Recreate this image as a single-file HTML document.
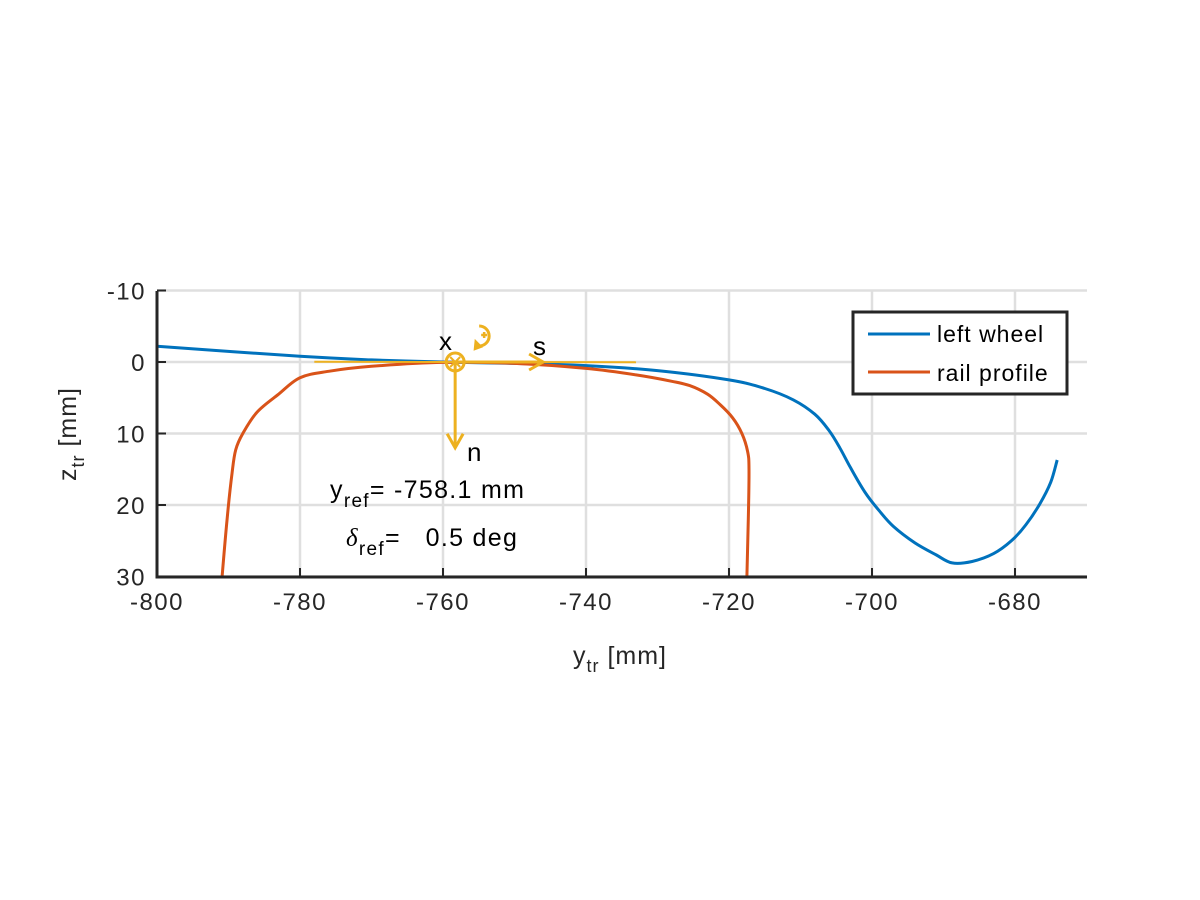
<!DOCTYPE html>
<html><head><meta charset="utf-8"><style>
html,body{margin:0;padding:0;background:#fff;}
svg{display:block;font-family:"Liberation Sans",Arial,sans-serif;}
</style></head><body>
<svg id="chart" width="1200" height="900" viewBox="0 0 1200 900" xmlns="http://www.w3.org/2000/svg">
<rect width="1200" height="900" fill="#fff"/>
<g id="grid"></g>
<g id="series"></g>
<g id="annot"></g>
<g id="axes"></g>
<text x="620" y="664" font-size="25" letter-spacing="1" fill="#262626" text-anchor="middle">y<tspan font-size="18" dy="8">tr</tspan><tspan dy="-8"> [mm]</tspan></text>
<text transform="translate(76,434) rotate(-90)" font-size="25" letter-spacing="1" fill="#262626" text-anchor="middle">z<tspan font-size="18" dy="8">tr</tspan><tspan dy="-8"> [mm]</tspan></text>
<text x="330" y="498" font-size="25" letter-spacing="1.3" fill="#000">y<tspan font-size="19" dy="9">ref</tspan><tspan dy="-9">= -758.1 mm</tspan></text>
<text x="346" y="546" font-size="25" letter-spacing="1.3" fill="#000" xml:space="preserve"><tspan font-family="Liberation Serif" font-style="italic">δ</tspan><tspan font-size="19" dy="9">ref</tspan><tspan dy="-9">=   0.5 deg</tspan></text>
<g>
<rect x="853" y="312" width="214" height="82" fill="#fff" stroke="#262626" stroke-width="3"/>
<line x1="868" y1="334" x2="930" y2="334" stroke="#0072BD" stroke-width="3"/>
<text x="937" y="342" font-size="23" letter-spacing="1" fill="#000">left wheel</text>
<line x1="868" y1="372" x2="930" y2="372" stroke="#D95319" stroke-width="3"/>
<text x="937" y="381" font-size="23" letter-spacing="1" fill="#000">rail profile</text>
</g>
</svg>
<script>
const xTicks = [-800,-780,-760,-740,-720,-700,-680];
const yTicks = [-10,0,10,20,30];
const wheelY = [-800,-780,-770,-760,-750,-740,-730,-720,-715,-711,-708,-706,-704.5,-703,-701,-699,-697,-694,-691,-688.8,-686,-683,-680.5,-678.5,-676.5,-675,-674.1];
const wheelZ = [-2.2,-0.8,-0.3,0,0.2,0.5,1.2,2.5,3.7,5.3,7.3,9.6,12,14.8,18.2,20.8,23,25.3,27,28.1,27.9,26.8,25,22.8,19.8,16.8,13.7];
const railY = [-790.9,-790.2,-789.5,-789,-788,-786,-783,-780,-776,-770,-760,-750,-740,-733,-728,-725.5,-723,-721.2,-719.5,-718.2,-717.4,-717.2,-717.3,-717.5];
const railZ = [30,22,15.5,12.3,10,7,4.5,2.2,1.3,0.6,0.05,0.2,0.9,1.8,2.7,3.3,4.5,6,7.8,10,12.5,15,22,30];
const X = v => 157 + (v + 800) * 7.15;
const Y = v => 362 + v * 7.15;
const NS = "http://www.w3.org/2000/svg";
function mk(tag, attrs, parent){const e=document.createElementNS(NS,tag);for(const k in attrs)e.setAttribute(k,attrs[k]);parent.appendChild(e);return e;}
const grid=document.getElementById('grid'), axes=document.getElementById('axes'), series=document.getElementById('series'), annot=document.getElementById('annot');
const x0=157,x1=1087,y0=291,y1=577;
xTicks.forEach(t=>{
  const g=mk('line',{x1:X(t),x2:X(t),y1:y0,y2:y1,stroke:'#dfdfdf','stroke-width':2.5},grid);
  
  
  const tk=mk('line',{x1:X(t),x2:X(t),y1:y1,y2:y1-9,stroke:'#262626','stroke-width':2},axes);
  
  
  const lb=mk('text',{x:X(t),y:y1+33,'font-size':24,'letter-spacing':1.5,fill:'#262626','text-anchor':'middle'},axes);
  
  
  lb.textContent=t;
});
yTicks.forEach(t=>{
  const g=mk('line',{x1:x0,x2:x1,y1:Y(t),y2:Y(t),stroke:'#dfdfdf','stroke-width':2.5},grid);
  
  
  const tk=mk('line',{x1:x0,x2:x0+9,y1:Y(t),y2:Y(t),stroke:'#262626','stroke-width':2},axes);
  
  
  const lb=mk('text',{x:x0-11,y:Y(t)+9,'font-size':24,'letter-spacing':1.5,fill:'#262626','text-anchor':'end'},axes);
  
  
  lb.textContent=t;
});
const ax=mk('path',{d:`M${x0},${y0} V${y1} H${x1}`,fill:'none',stroke:'#262626','stroke-width':3},axes);


function smooth(pts){
  let d='M'+pts[0][0].toFixed(1)+','+pts[0][1].toFixed(1);
  for(let i=0;i<pts.length-1;i++){
    const p0=pts[Math.max(i-1,0)],p1=pts[i],p2=pts[i+1],p3=pts[Math.min(i+2,pts.length-1)];
    const c1=[p1[0]+(p2[0]-p0[0])/6,p1[1]+(p2[1]-p0[1])/6];
    const c2=[p2[0]-(p3[0]-p1[0])/6,p2[1]-(p3[1]-p1[1])/6];
    d+=` C${c1[0].toFixed(1)},${c1[1].toFixed(1)} ${c2[0].toFixed(1)},${c2[1].toFixed(1)} ${p2[0].toFixed(1)},${p2[1].toFixed(1)}`;
  }
  return d;
}
function line(xs,zs,col,name){
  const pts=xs.map((v,i)=>[X(v),Y(zs[i])]);
  const p=mk('path',{d:smooth(pts),fill:'none',stroke:col,'stroke-width':3,'stroke-linejoin':'round'},series);
  
  
}
line(wheelY,wheelZ,'#0072BD','left-wheel-line');
line(railY,railZ,'#D95319','rail-profile-line');
const yc='#EDB120', ox=X(-758.3), oy=Y(0);
const a=[
 ['line',{x1:X(-778),x2:X(-733),y1:oy-0.3,y2:oy+0.3,stroke:yc,'stroke-width':2},'tangent-line'],
 ['line',{x1:ox,x2:X(-746),y1:oy,y2:oy,stroke:yc,'stroke-width':3},'s-axis-arrow'],
 ['path',{d:`M${X(-746)-14},${oy-8} L${X(-746)},${oy} L${X(-746)-14},${oy+8}`,fill:'none',stroke:yc,'stroke-width':3},'s-arrowhead'],
 ['line',{x1:ox,x2:ox,y1:oy,y2:Y(12),stroke:yc,'stroke-width':3},'n-axis-arrow'],
 ['path',{d:`M${ox-8},${Y(12)-14} L${ox},${Y(12)} L${ox+8},${Y(12)-14}`,fill:'none',stroke:yc,'stroke-width':3},'n-arrowhead'],
 ['circle',{cx:ox,cy:oy,r:9,fill:'none',stroke:yc,'stroke-width':3},'x-axis-circle'],
 ['path',{d:`M${ox-5},${oy-5} L${ox+5},${oy+5} M${ox-5},${oy+5} L${ox+5},${oy-5}`,stroke:yc,'stroke-width':2},'x-axis-cross'],
 ['path',{d:`M${ox+24},${oy-36} A10,10 0 1 1 ${ox+24},${oy-16}`,fill:'none',stroke:yc,'stroke-width':3},'rotation-arc'],
 ['path',{d:`M${ox+20},${oy-22} L${ox+27},${oy-15} L${ox+19},${oy-12} Z`,fill:yc,stroke:yc,'stroke-width':1},'rotation-arrowhead'],
 ['path',{d:`M${ox+26},${oy-27} h6 M${ox+29},${oy-30} v6`,stroke:yc,'stroke-width':2.5},'rotation-plus']
];
a.forEach(([t,at,n])=>{const e=mk(t,at,annot);});
[['x',439,350],['s',533,355],['n',467,461]].forEach(([s,x,y])=>{
  const e=mk('text',{x:x,y:y,'font-size':26,fill:'#000'},annot);
  
  
  e.textContent=s;
});
</script>
</body></html>
